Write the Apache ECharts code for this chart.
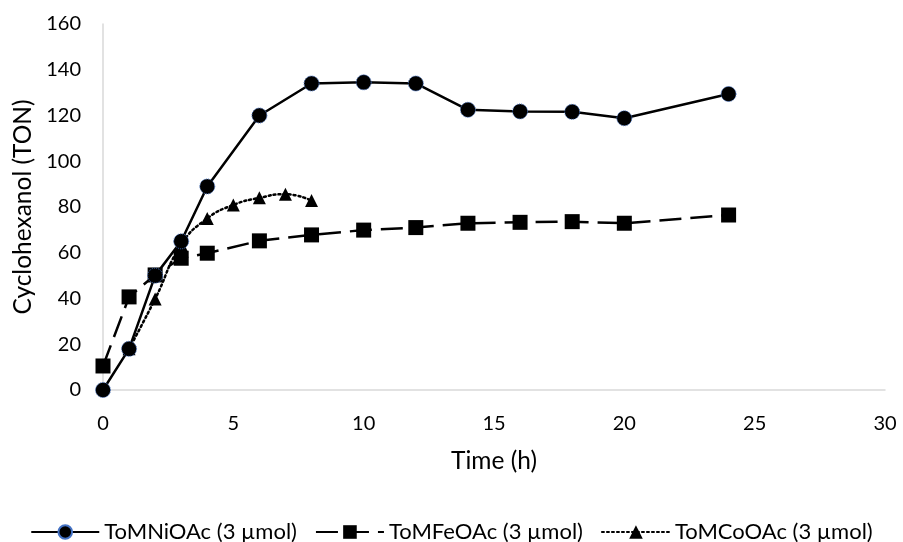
<!DOCTYPE html>
<html>
<head>
<meta charset="utf-8">
<script src="https://cdn.jsdelivr.net/npm/echarts@6/dist/echarts.min.js"></script>
<style>html,body{margin:0;padding:0;background:#fff}#c{width:903px;height:542px}</style>
</head>
<body>
<div id="c"></div>
<script>
const niTime = [0, 1, 2, 3, 4, 6, 8, 10, 12, 14, 16, 18, 20, 24];
const niValues = [0, 18, 50, 65, 89, 120, 134, 134.5, 134, 122.5, 121.8, 121.6, 118.8, 129.4];
const feTime = [0, 1, 2, 3, 4, 6, 8, 10, 12, 14, 16, 18, 20, 24];
const feValues = [10.5, 40.7, 50.3, 57.6, 59.8, 65.2, 67.8, 69.9, 71, 72.9, 73.3, 73.6, 72.9, 76.5];
const coTime = [1, 2, 3, 4, 5, 6, 7, 8];
const coValues = [18, 39.8, 63.5, 75, 80.9, 84, 85.6, 82.8];
const seriesNames = ['ToMNiOAc (3 µmol)', 'ToMFeOAc (3 µmol)', 'ToMCoOAc (3 µmol)'];
const xTicks = [0, 5, 10, 15, 20, 25, 30];
const yTicks = [0, 20, 40, 60, 80, 100, 120, 140, 160];

const pair = (t, v) => t.map((x, i) => [x, v[i]]);
const FONT = 'Lato';
const dashFe = [22, 9];
const dotCo = [2, 3];
const chart = echarts.init(document.getElementById('c'));
chart.setOption({
  animation: false,
  textStyle: { fontFamily: FONT, color: '#000' },
  grid: { left: 103, right: 18, top: 24, bottom: 152 },
  legend: {
    left: 'center', top: 516, itemWidth: 68, itemHeight: 17, itemGap: 18,
    textStyle: { fontFamily: FONT, fontSize: 22, color: '#000' },
    data: [
      { name: seriesNames[0], lineStyle: { type: 'solid' } },
      { name: seriesNames[1], lineStyle: { type: dashFe } },
      { name: seriesNames[2], lineStyle: { type: dotCo, cap: 'round' } }
    ]
  },
  xAxis: {
    type: 'value', min: xTicks[0], max: xTicks[xTicks.length - 1], interval: 5,
    name: 'Time (h)', nameLocation: 'middle', nameGap: 59,
    nameTextStyle: { fontFamily: FONT, fontSize: 24.5, color: '#000' },
    axisLine: { lineStyle: { color: '#d9d9d9', width: 1.5 } },
    axisTick: { show: false },
    splitLine: { show: false },
    axisLabel: { fontFamily: FONT, fontSize: 20, color: '#000', margin: 24 }
  },
  yAxis: {
    type: 'value', min: yTicks[0], max: yTicks[yTicks.length - 1], interval: 20,
    name: 'Cyclohexanol (TON)', nameLocation: 'middle', nameGap: 66,
    nameTextStyle: { fontFamily: FONT, fontSize: 24.5, color: '#000' },
    axisLine: { show: true, lineStyle: { color: '#d9d9d9', width: 1.5 } },
    axisTick: { show: false },
    splitLine: { show: false },
    axisLabel: { fontFamily: FONT, fontSize: 20, color: '#000', margin: 22 }
  },
  series: [
    {
      name: seriesNames[0], type: 'line', data: pair(niTime, niValues), z: 3,
      symbol: 'circle', symbolSize: 15,
      lineStyle: { color: '#000', width: 2.5, type: 'solid' },
      itemStyle: { color: '#000', borderColor: '#4472c4', borderWidth: 1, borderType: 'dotted' }
    },
    {
      name: seriesNames[1], type: 'line', data: pair(feTime, feValues), z: 2,
      symbol: 'rect', symbolSize: 15,
      lineStyle: { color: '#000', width: 2.5, type: dashFe },
      itemStyle: { color: '#000' }
    },
    {
      name: seriesNames[2], type: 'line', data: pair(coTime, coValues), z: 2,
      symbol: 'triangle', symbolSize: 13, smooth: true,
      lineStyle: { color: '#000', width: 2.5, type: dotCo, cap: 'round' },
      itemStyle: { color: '#000' }
    }
  ]
});
</script>
</body>
</html>
